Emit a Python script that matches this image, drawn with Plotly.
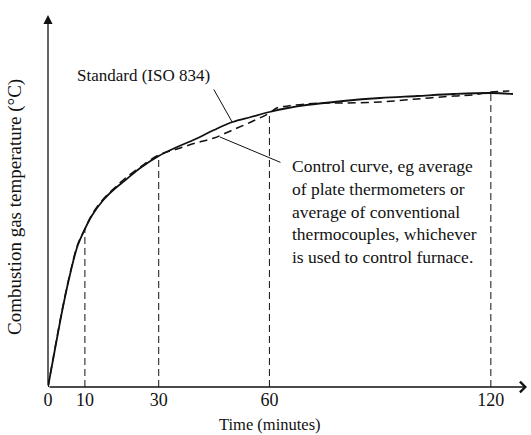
import plotly.graph_objects as go

# Standard (ISO 834) curve (height in chart units, schematic)
std_time = [0, 2, 4, 6, 8, 10, 12, 15, 18, 21, 25, 30, 35, 40, 45, 50, 55, 60, 65, 70, 80, 90, 100, 110, 120, 126]
std_temp = [0, 40, 79, 113, 141, 158, 172, 187, 198, 207, 219, 231, 240, 248, 257, 265, 270, 275, 279, 282, 286, 289, 291, 293, 294, 293]

# Control curve (dashed)
ctl_time = [0, 2, 4, 6, 8, 10, 12, 15, 18, 21, 25, 30, 35, 40, 45, 50, 55, 60, 62, 65, 70, 75, 80, 90, 100, 110, 115, 120, 125]
ctl_temp = [0, 41, 80, 114, 142, 158, 173, 188, 199, 209, 220, 232, 238, 244, 249, 257, 265, 274, 279, 281, 283, 284, 284, 285, 288, 291, 292, 295, 296]

# Marked times
mark_times = [10, 30, 60, 120]
mark_heights = [158, 231, 275, 294]
tick_labels = ["0", "10", "30", "60", "120"]

X_MAX = 129.8
Y_MAX = 377
Y_ARROW = 372

FONT = "Liberation Serif"
INK = "#111111"

fig = go.Figure()

# vertical dashed guides
vx, vy = [], []
for t, h in zip(mark_times, mark_heights):
    vx += [t, t, None]
    vy += [0, h, None]
fig.add_trace(go.Scatter(x=vx, y=vy, mode="lines",
                         line=dict(color=INK, width=1, dash="7px,4px"),
                         hoverinfo="skip", showlegend=False))

fig.add_trace(go.Scatter(x=std_time, y=std_temp, mode="lines",
                         line=dict(color=INK, width=1.8, shape="spline"),
                         name="Standard (ISO 834)", showlegend=False))
fig.add_trace(go.Scatter(x=ctl_time, y=ctl_temp, mode="lines",
                         line=dict(color=INK, width=1.5, dash="8px,5px", shape="spline"),
                         name="Control curve", showlegend=False))

ann = []
# axes with arrows
ann.append(dict(x=X_MAX, y=0, ax=0, ay=0, xref="x", yref="y", axref="x", ayref="y",
                showarrow=True, arrowhead=4, arrowsize=1.6, arrowwidth=1.3, arrowcolor=INK, text=""))
ann.append(dict(x=0, y=Y_ARROW, ax=0, ay=0, xref="x", yref="y", axref="x", ayref="y",
                showarrow=True, arrowhead=2, arrowsize=1.4, arrowwidth=1.3, arrowcolor=INK, text=""))
# leader lines
ann.append(dict(x=49.9, y=265, ax=44.7, ay=299, xref="x", yref="y", axref="x", ayref="y",
                showarrow=True, arrowhead=0, arrowwidth=1, arrowcolor=INK, text=""))
ann.append(dict(x=46.6, y=250, ax=63.4, ay=224, xref="x", yref="y", axref="x", ayref="y",
                showarrow=True, arrowhead=0, arrowwidth=1, arrowcolor=INK, text=""))
# labels
ann.append(dict(x=7.3, y=312, xref="x", yref="y", xanchor="left", yanchor="middle",
                text="Standard (ISO 834)", showarrow=False,
                font=dict(family=FONT, size=17, color=INK)))
ann.append(dict(x=65.6, y=233, xref="x", yref="y", xanchor="left", yanchor="top", align="left",
                text="Control curve, eg average<br>of plate thermometers or<br>average of conventional<br>"
                     "thermocouples, whichever<br>is used to control furnace.",
                showarrow=False, font=dict(family=FONT, size=17.5, color=INK)))
ann.append(dict(x=0, y=180, xref="paper", yref="y", xshift=-33, xanchor="center", yanchor="middle",
                textangle=-90, text="Combustion gas temperature (°C)", showarrow=False,
                font=dict(family=FONT, size=19, color=INK)))
ann.append(dict(x=60.2, y=0, xref="x", yref="paper", yshift=-37, xanchor="center", yanchor="middle",
                text="Time (minutes)", showarrow=False,
                font=dict(family=FONT, size=16.5, color=INK)))

fig.update_layout(
    width=531, height=435,
    margin=dict(l=48, r=4, t=10, b=48),
    paper_bgcolor="white", plot_bgcolor="white",
    annotations=ann,
    xaxis=dict(range=[0, X_MAX], showgrid=False, zeroline=False, showline=False,
               tickmode="array", tickvals=[0] + mark_times, ticktext=tick_labels,
               ticks="", tickfont=dict(family=FONT, size=18, color=INK)),
    yaxis=dict(range=[0, Y_MAX], showgrid=False, zeroline=False, showline=False,
               showticklabels=False, ticks=""),
)

fig.write_html("out.html")
